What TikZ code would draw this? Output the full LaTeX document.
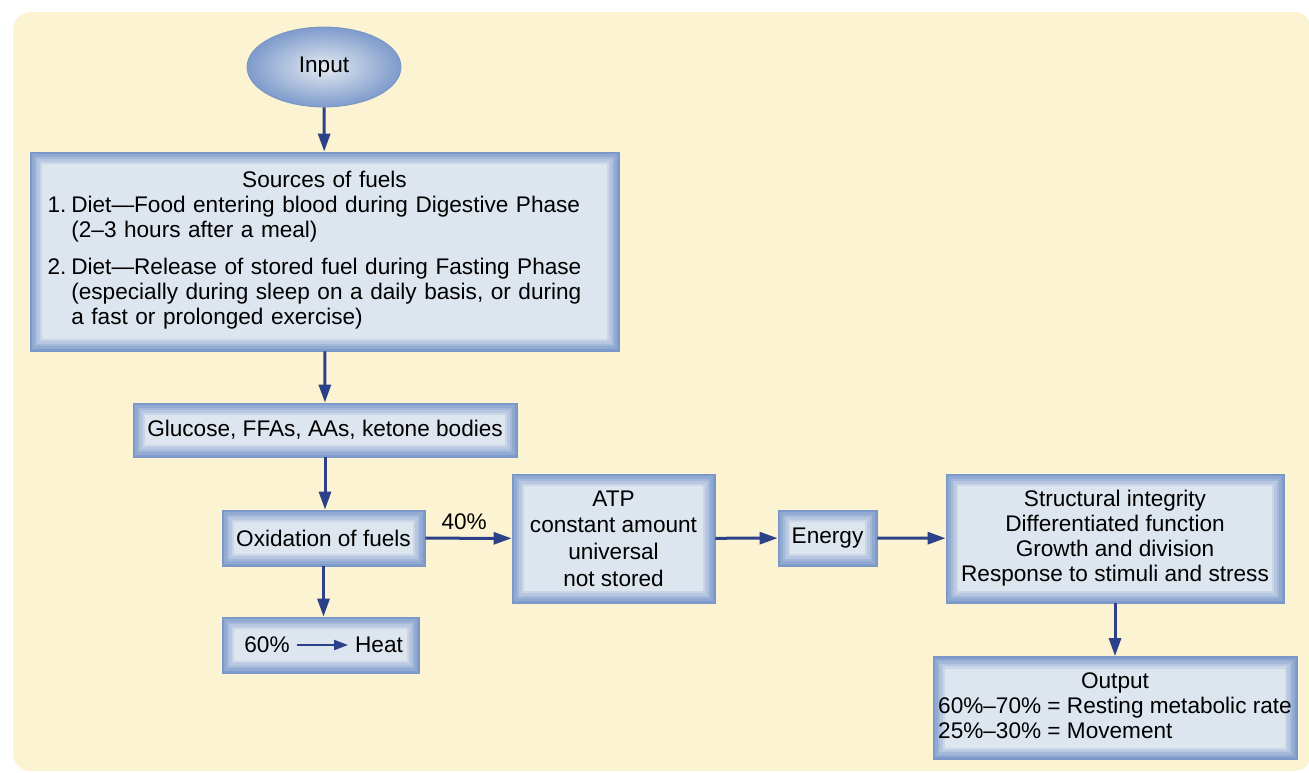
\documentclass[tikz,border=0pt]{standalone}
\usepackage{fontspec}
\setmainfont{Liberation Sans}
\usetikzlibrary{arrows.meta,shapes.geometric}
\definecolor{paper}{HTML}{FBF3D2}
\definecolor{boxface}{HTML}{DDE5EF}
\definecolor{boxedge}{HTML}{7E9BCB}
\definecolor{boxline}{HTML}{7A96C6}
\definecolor{ovalin}{HTML}{E4EAF2}
\definecolor{flowblue}{HTML}{2C4187}
\tikzset{
  box/.style={draw=boxline, line width=0.4pt, fill=boxedge, inner sep=2pt, align=center,
    path picture={
      \foreach \d/\c in {1.2pt/20,2.4pt/40,3.6pt/60,4.8pt/80,6pt/100}
        \fill[boxface!\c!boxedge] ([shift={(\d,\d)}]path picture bounding box.south west)
          rectangle ([shift={(-\d,-\d)}]path picture bounding box.north east);
    }},
  flow/.style={draw=flowblue, line width=1.5pt, -{Triangle[length=9pt,width=6pt]}},
}
\begin{document}
\begin{tikzpicture}[x=0.5pt, y=-0.5pt, font=\fontsize{11.3}{12.5}\selectfont]
  \useasboundingbox (0,0) rectangle (1309,772);
  \fill[paper, rounded corners=9pt] (13,12) rectangle (1312,771);

  % left column
  \node[ellipse, draw=boxline, inner color=ovalin, outer color=boxedge,
        minimum width=77pt, minimum height=40pt] (input) at (324,67) {Input};
  \node[box, minimum width=294.5pt, minimum height=99.5pt, text width=277pt,
        align=left, inner sep=0pt] (sources) at (324.5,251.5)
    {\makebox[\linewidth]{Sources of fuels}\\
     \begin{tabular}[t]{@{}l@{\hspace{2.5pt}}l@{}}
       1.&Diet—Food entering blood during Digestive Phase\\
         &(2–3 hours after a meal)\\[6pt]
       2.&Diet—Release of stored fuel during Fasting Phase\\
         &(especially during sleep on a daily basis, or during\\
         &a fast or prolonged exercise)
     \end{tabular}};
  \node[box, minimum width=192pt, minimum height=27pt] (fuels) at (325,430)
    {Glucose, FFAs, AAs, ketone bodies};
  \node[box, minimum width=101.5pt, minimum height=28pt] (oxid) at (323.5,538)
    {Oxidation of fuels};
  \node[box, minimum width=98.5pt, minimum height=28pt] (heatbox) at (320.5,645) {};
  \node (pct60) at (267,645) {60\%};
  \node (heat) at (379,645) {Heat};

  % right part
  \node[box, minimum width=101.5pt, minimum height=64.5pt,
        font=\fontsize{11.3}{13.3}\selectfont] (atp) at (613.5,538.5)
    {ATP\\constant amount\\universal\\not stored};
  \node[box, minimum width=49.5pt, minimum height=28pt] (energy) at (827.5,538) {Energy};
  \node[box, minimum width=169pt, minimum height=64.5pt] (roles) at (1115,538.5)
    {Structural integrity\\Differentiated function\\Growth and division\\Response to stimuli and stress};
  \node[box, minimum width=182pt, minimum height=51.5pt, inner sep=0pt] (output) at (1115,708)
    {\begin{tabular}{@{}l@{}}
       \multicolumn{1}{@{}c@{}}{Output}\\
       60\%–70\% = Resting metabolic rate\\
       25\%–30\% = Movement
     \end{tabular}};

  % connectors
  \draw[flow] (input) -- (sources);
  \draw[flow] (sources) -- (fuels);
  \draw[flow] (fuels.south) -- (fuels.south |- oxid.north);
  \draw[flow] (oxid.south) -- (oxid.south |- heatbox.north);
  \draw[flow, line width=1pt, -{Triangle[length=7pt,width=5pt]}] (pct60) -- (heat);
  \draw[flow] (oxid) -- node[above, pos=0.45, text=black] {40\%} (atp);
  \draw[flow] (atp) -- (energy);
  \draw[flow] (energy) -- (roles);
  \draw[flow] (roles) -- (output);
\end{tikzpicture}
\end{document}
